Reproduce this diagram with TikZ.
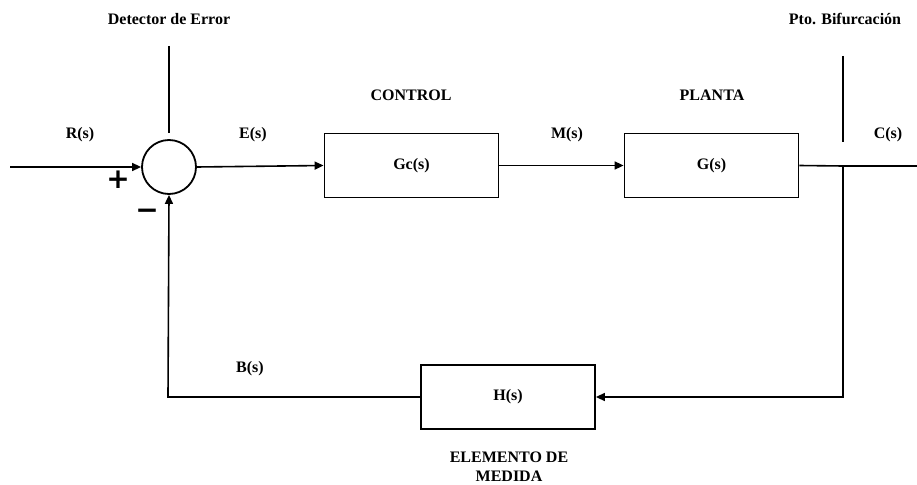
\documentclass[tikz,border=0pt]{standalone}
\usepackage{fontspec}
\setmainfont{Liberation Serif}
\newfontfamily\symfont{DejaVu Sans}
\usetikzlibrary{arrows.meta}
\begin{document}
\begin{tikzpicture}[x=1pt,y=-1pt,
  lbl/.style={font=\fontsize{16}{18}\selectfont\bfseries, inner sep=0pt},
  blockbox/.style={draw, line width=1.8pt, minimum width=174pt, minimum height=64pt, inner sep=0pt, font=\fontsize{16}{18}\selectfont\bfseries},
  wire/.style={line width=1.6pt},
  arr/.style={wire, -{Triangle[length=9pt,width=8pt]}}]
\useasboundingbox (0,0) rectangle (917,484);
% summing junction
\node[draw, circle, line width=1.8pt, minimum size=54pt, inner sep=0pt] (sum) at (169,167) {};
\coordinate (in) at (10,167);
\coordinate (dtop) at (169,46);
\coordinate (dbot) at (169,133);
% blocks
\node[blockbox] (gc) at (411.5,165.5) {Gc(s)};
\node[blockbox] (g) at (711.5,165.5) {G(s)};
\node[blockbox] (h) at (508,397) {H(s)};
% branch point
\coordinate (bp) at (843,166);
\coordinate (btop) at (843,56);
\coordinate (bmid) at (843,142);
\coordinate (out) at (917,166);
\coordinate (br) at (843,397);
\coordinate (bl) at (168,397);
% connectors
\draw[arr] (in) -- (sum.west);
\draw[wire] (dtop) -- (dbot);
\draw[arr] (sum.east) -- (gc.west);
\draw[arr] (gc.east) -- (g.west);
\draw[wire] (g.east) -- (bp) -- (out);
\draw[wire] (btop) -- (bmid);
\draw[arr] (bp) -- (br) -- (h.east);
\draw[arr] (h.west) -- (bl) -- (sum.south);
% labels
\node[lbl] (t1) at (169,19) {Detector de Error};
\node[lbl] (t2) at (845,19) {Pto. Bifurcación};
\node[lbl] (t3) at (411,95) {CONTROL};
\node[lbl] (t4) at (712,95) {PLANTA};
\node[lbl] (t5) at (80,135) {R(s)};
\node[lbl] (t6) at (253,135) {E(s)};
\node[lbl] (t7) at (567,135) {M(s)};
\node[lbl] (t8) at (888,135) {C(s)};
\node[lbl] (t9) at (250,369) {B(s)};
\node[lbl, align=center, font=\fontsize{16}{19}\selectfont\bfseries] (t10) at (509,467) {ELEMENTO DE\\MEDIDA};
\node[inner sep=0pt, font=\symfont\bfseries\fontsize{28}{28}\selectfont] (plus) at (118,180) {+};
\node[inner sep=0pt, font=\symfont\bfseries\fontsize{28}{28}\selectfont] (minus) at (147,214) {−};
\end{tikzpicture}
\end{document}
